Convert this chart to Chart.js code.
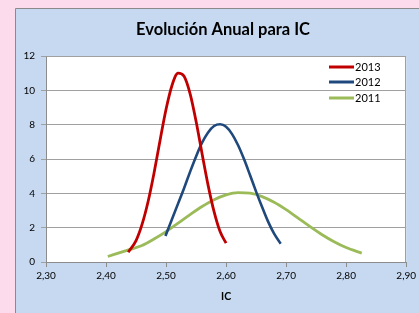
<!DOCTYPE html>
<html>
<head>
<meta charset="utf-8">
<script src="https://cdn.jsdelivr.net/npm/chart.js@4.4.0/dist/chart.umd.min.js"></script>
<style>
  html, body { margin: 0; padding: 0; background: #fcdcec; }
  #wrap { width: 419px; height: 313px; position: relative; }
</style>
</head>
<body>
<div id="wrap"><canvas id="chart" width="419" height="313"></canvas></div>
<script>
// values (IC on x, frequency on y)
const ic2013 = [2.437, 2.45, 2.46, 2.47, 2.48, 2.49, 2.50, 2.51, 2.52, 2.53, 2.54, 2.55, 2.56, 2.57, 2.58, 2.59, 2.60];
const val2013 = [0.57, 1.25, 2.19, 3.51, 5.19, 7.08, 8.90, 10.30, 11.00, 10.82, 9.81, 8.20, 6.31, 4.48, 2.93, 1.77, 1.10];

const ic2012 = [2.499, 2.51, 2.52, 2.53, 2.54, 2.55, 2.56, 2.57, 2.58, 2.59, 2.60, 2.61, 2.62, 2.63, 2.64, 2.65, 2.66, 2.67, 2.68, 2.691];
const val2012 = [1.51, 2.5, 3.4, 4.3, 5.25, 6.15, 6.95, 7.55, 7.92, 8.02, 7.88, 7.45, 6.8, 5.98, 5.05, 4.1, 3.2, 2.35, 1.65, 1.06];

const ic2011 = [2.403, 2.435, 2.46, 2.48, 2.50, 2.52, 2.54, 2.56, 2.58, 2.60, 2.62, 2.64, 2.66, 2.68, 2.70, 2.72, 2.74, 2.76, 2.78, 2.80, 2.826];
const val2011 = [0.32, 0.68, 0.96, 1.34, 1.77, 2.26, 2.76, 3.23, 3.63, 3.91, 4.04, 4.01, 3.81, 3.48, 3.05, 2.56, 2.06, 1.59, 1.18, 0.84, 0.52];

const seriesNames = ['2013', '2012', '2011'];
const seriesColors = ['#c00000', '#1f497d', '#9bbb59'];

const xTicksMin = 2.3, xTicksMax = 2.9, xStep = 0.1;
const yTicksMin = 0, yTicksMax = 12, yStep = 2;

function toPoints(xs, ys) {
    return xs.map(function (x, i) { return { x: x, y: ys[i] }; });
}

const allX = [ic2013, ic2012, ic2011];
const allY = [val2013, val2012, val2011];

const datasets = seriesNames.map(function (name, i) {
    return {
        label: name,
        data: toPoints(allX[i], allY[i]),
        borderColor: seriesColors[i],
        backgroundColor: seriesColors[i],
        borderWidth: i == 1 ? 2.6 : 2.8,
        pointRadius: 0,
        showLine: true,
        cubicInterpolationMode: 'monotone',
        fill: false
    };
});

//backgrounds, panel, plot border, title and legend
const decor = {
    id: 'decor',
    beforeDraw(chart) {
        const c = chart.ctx;
        const a = chart.chartArea;
        c.save();
        c.fillStyle = '#fcdcec';
        c.fillRect(0, 0, chart.width, chart.height);
        c.fillStyle = '#c6d9f0';
        c.fillRect(15.5, 8.5, chart.width, chart.height);
        c.strokeStyle = '#8a8a8a';
        c.lineWidth = 1;
        c.beginPath();
        c.moveTo(15.5, chart.height);
        c.lineTo(15.5, 8.5);
        c.lineTo(chart.width, 8.5);
        c.stroke();
        c.fillStyle = '#ffffff';
        c.fillRect(a.left, a.top, a.right - a.left, a.bottom - a.top);
        c.restore();
    },
    afterDraw(chart) {
        const c = chart.ctx;
        const a = chart.chartArea;
        c.save();
        c.strokeStyle = '#a0a0a0';
        c.lineWidth = 1;
        c.beginPath();
        c.moveTo(Math.round(a.left) + 0.5, Math.round(a.top) + 0.5);
        c.lineTo(Math.round(a.right) - 0.5, Math.round(a.top) + 0.5);
        c.lineTo(Math.round(a.right) - 0.5, Math.round(a.bottom));
        c.stroke();

        c.fillStyle = '#000';
        c.font = 'bold 16.5px Lato';
        c.textAlign = 'center';
        c.textBaseline = 'middle';
        c.fillText('Evolución Anual para IC', 223, 30);

        c.font = '11px Lato';
        c.textAlign = 'left';
        const legY = [67, 82, 98];
        seriesNames.forEach(function (name, i) {
            c.strokeStyle = seriesColors[i];
            c.lineWidth = 3;
            c.beginPath();
            c.moveTo(329, legY[i]);
            c.lineTo(354, legY[i]);
            c.stroke();
            c.fillText(name, 355, legY[i]);
        });
        c.restore();
    }
};

new Chart(document.getElementById('chart'), {
    type: 'scatter',
    data: { datasets: datasets },
    options: {
        responsive: false,
        animation: false,
        layout: { padding: { top: 56, right: 9, bottom: 0, left: 0 } },
        plugins: {
            legend: { display: false },
            title: { display: false },
            tooltip: { enabled: false }
        },
        scales: {
            x: {
                type: 'linear',
                min: xTicksMin,
                max: xTicksMax,
                afterFit: function (axis) { axis.height = 51; },
                ticks: {
                    stepSize: xStep,
                    color: '#000',
                    font: { family: 'Lato', size: 10 },
                    padding: 3,
                    callback: function (v) { return v.toFixed(2).replace('.', ','); }
                },
                grid: { drawOnChartArea: false, drawTicks: true, tickLength: 5, color: '#8c8c8c' },
                border: { color: '#8c8c8c' },
                title: {
                    display: true,
                    text: 'IC',
                    color: '#000',
                    font: { family: 'Lato', size: 10.5, weight: 'bold' },
                    padding: { top: 4, bottom: 10 }
                }
            },
            y: {
                min: yTicksMin,
                max: yTicksMax,
                afterFit: function (axis) { axis.width = 46; },
                ticks: {
                    stepSize: yStep,
                    color: '#000',
                    font: { family: 'Lato', size: 10 },
                    padding: 6
                },
                grid: { color: '#a0a0a0', tickLength: 5 },
                border: { color: '#8c8c8c' }
            }
        }
    },
    plugins: [decor]
});
</script>
</body>
</html>
